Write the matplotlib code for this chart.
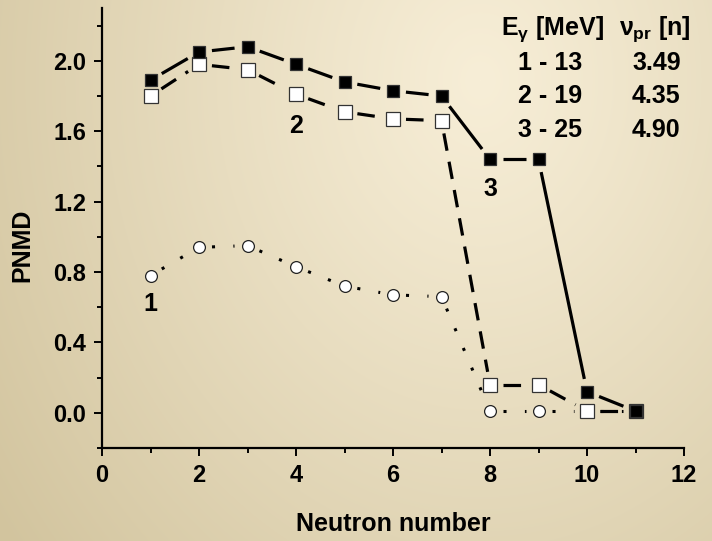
import numpy as np
import matplotlib
matplotlib.use("Agg")
import matplotlib.pyplot as plt
from matplotlib.ticker import MultipleLocator, FormatStrFormatter

# ---- data ----
neutrons = [1, 2, 3, 4, 5, 6, 7, 8, 9, 10, 11]
pnmd_13 = [0.78, 0.94, 0.95, 0.83, 0.72, 0.67, 0.66, 0.01, 0.01, 0.01, 0.01]
pnmd_19 = [1.80, 1.98, 1.95, 1.81, 1.71, 1.67, 1.66, 0.16, 0.16, 0.01, 0.01]
pnmd_25 = [1.89, 2.05, 2.08, 1.98, 1.88, 1.83, 1.80, 1.44, 1.44, 0.12, 0.01]
curve_labels = ["1", "2", "3"]
curve_label_pos = [(1.0, 0.62), (4.0, 1.63), (8.0, 1.27)]
table_energy = ["1 - 13", "2 - 19", "3 - 25"]
table_nu = ["3.49", "4.35", "4.90"]

plt.rcParams['font.family'] = ['Liberation Sans', 'DejaVu Sans']
plt.rcParams['font.weight'] = 'bold'
plt.rcParams['mathtext.fontset'] = 'custom'
plt.rcParams['mathtext.rm'] = 'Liberation Sans:bold'
plt.rcParams['mathtext.bf'] = 'Liberation Sans:bold'
plt.rcParams['mathtext.it'] = 'Liberation Sans:bold'

W, H = 712, 541
fig = plt.figure(figsize=(W / 100, H / 100), dpi=100)

# background gradient
bg = fig.add_axes([0, 0, 1, 1], zorder=-10)
yy, xx = np.mgrid[0:H, 0:W]
d = np.sqrt((xx - 480.0) ** 2 + ((yy - 80.0) * 0.8) ** 2)
t = np.clip(d / 600.0, 0, 1) ** 1.1
light = np.array([247, 238, 215]) / 255.0
dark = np.array([210, 196, 158]) / 255.0
img = light[None, None, :] + (dark - light)[None, None, :] * t[..., None]
bg.imshow(img, aspect='auto', extent=[0, 1, 0, 1], origin='upper')
bg.axis('off')

L, R, T, B = 102, 684, 8, 448
ax = fig.add_axes([L / W, (H - B) / H, (R - L) / W, (B - T) / H])
ax.set_facecolor('none')
ax.set_xlim(0, 12)
ax.set_ylim(-0.2, 2.3)
ax.set_autoscale_on(False)

for s in ['top', 'right']:
    ax.spines[s].set_visible(False)
for s in ['left', 'bottom']:
    ax.spines[s].set_linewidth(1.6)

ax.xaxis.set_major_locator(MultipleLocator(2))
ax.xaxis.set_minor_locator(MultipleLocator(1))
ax.yaxis.set_major_locator(MultipleLocator(0.4))
ax.yaxis.set_minor_locator(MultipleLocator(0.2))
ax.yaxis.set_major_formatter(FormatStrFormatter('%.1f'))
ax.tick_params(which='major', direction='out', length=5.5, width=1.4, labelsize=17, pad=6)
ax.tick_params(which='minor', direction='out', length=3.5, width=1.4)
for lab in ax.get_xticklabels() + ax.get_yticklabels():
    lab.set_fontweight('bold')

ax.set_xlabel('Neutron number', fontsize=18, fontweight='bold')
ax.set_ylabel('PNMD', fontsize=18, fontweight='bold')
ax.xaxis.set_label_coords(0.5, -0.145)
ax.yaxis.set_label_coords(-0.117, 0.461)

fig.canvas.draw()
trans = ax.transData
inv = trans.inverted()
gap = 13.0  # px gap around markers


def gapped_line(xs, ys, **kw):
    pts = trans.transform(np.column_stack([xs, ys]))
    for i in range(len(pts) - 1):
        p0, p1 = pts[i], pts[i + 1]
        v = p1 - p0
        n = np.hypot(*v)
        if n <= 2 * gap:
            continue
        u = v / n
        a = inv.transform(p0 + u * gap)
        b = inv.transform(p1 - u * gap)
        ax.plot([a[0], b[0]], [a[1], b[1]], color='black', solid_capstyle='butt',
                dash_capstyle='butt', zorder=2, **kw)


gapped_line(neutrons, pnmd_25, lw=2.3, linestyle='-')
gapped_line(neutrons, pnmd_19, lw=2.3, linestyle=(0, (5.5, 3.5)))
gapped_line(neutrons, pnmd_13, lw=2.2, linestyle=(0, (1.0, 6.0)))

ax.plot(neutrons, pnmd_13, linestyle='none', marker='o', ms=8.5, mfc='white',
        mec='#222222', mew=0.9, zorder=3)
ax.plot(neutrons, pnmd_19, linestyle='none', marker='s', ms=9.5, mfc='white',
        mec='#333333', mew=0.9, zorder=4)
ax.plot(neutrons, pnmd_25, linestyle='none', marker='s', ms=8.3, mfc='black',
        mec='#333333', mew=0.9, zorder=5)

for lab, (x, y) in zip(curve_labels, curve_label_pos):
    ax.text(x, y, lab, fontsize=18, fontweight='bold', ha='center', va='center')

# table in upper right
ax.text(9.28, 2.18, r'E$_{\gamma}$ [MeV]', fontsize=18, fontweight='bold', ha='center', va='center')
ax.text(11.39, 2.18, r'$\nu_{pr}$ [n]', fontsize=18, fontweight='bold', ha='center', va='center')
row_y = [1.99, 1.80, 1.605]
for e, nu, y in zip(table_energy, table_nu, row_y):
    ax.text(9.24, y, e, fontsize=18, fontweight='bold', ha='center', va='center')
    ax.text(11.43, y, nu, fontsize=18, fontweight='bold', ha='center', va='center')

fig.savefig('out.png', dpi=100)
